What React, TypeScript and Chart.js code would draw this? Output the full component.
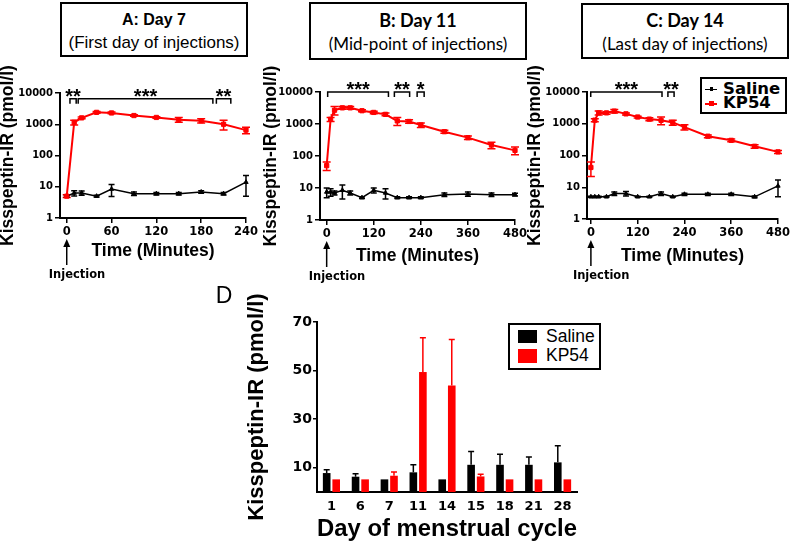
import React, { useEffect, useRef } from 'react';
import { Chart, registerables } from 'chart.js';

Chart.register(...registerables);

const SANS = '"Liberation Sans", Arial, sans-serif';
const HEAVY = '"DejaVu Sans", "Liberation Sans", sans-serif';
const LATO = 'Lato, "Open Sans", sans-serif';
const RED = '#ff0000';

// ---------- Panel A: Day 7 ----------
const timesA = [0, 10, 20, 40, 60, 90, 120, 150, 180, 210, 240];
const salineA = [5, 6.3, 6.3, 5, 8.4, 6, 6, 6, 6.8, 6, 14];
const salineErrA = [0.3, 1.2, 1, 0.3, 3.5, 0.8, 0.6, 0.6, 0.6, 0.6, 9];
const kp54A = [5, 1150, 1600, 2400, 2300, 1900, 1650, 1400, 1300, 1000, 650];
const kp54ErrA = [0.5, 200, 100, 150, 150, 100, 100, 250, 200, 350, 150];
const xTicksA = [0, 60, 120, 180, 240];
const bracketsA: [number, number, string][] = [[3, 14, '**'], [14, 197, '***'], [199, 221, '**']];
const bracketLevelA = 6500;

// ---------- Panel B: Day 11 ----------
const timesB = [0, 10, 20, 40, 60, 90, 120, 150, 180, 210, 240, 300, 360, 420, 480];
const salineB = [7.5, 7.5, 7, 8.5, 7, 5, 8.5, 7, 5, 5, 5, 6.2, 6.5, 6.2, 6.2];
const salineErrB = [2.5, 2, 1, 4, 1, 0.3, 1.5, 2.5, 0.3, 0.3, 0.3, 0.8, 1, 0.8, 0.6];
const kp54B = [50, 1400, 2700, 3200, 3200, 2600, 2300, 2000, 1250, 1200, 930, 575, 375, 220, 150];
const kp54ErrB = [15, 200, 800, 300, 300, 200, 200, 200, 350, 150, 150, 60, 50, 50, 40];
const bracketsB: [number, number, string][] = [[0, 160, '***'], [170, 214, '**'], [228, 251, '*']];
const bracketLevelB = 10000;

// ---------- Panel C: Day 14 ----------
const timesC = [0, 10, 20, 40, 60, 90, 120, 150, 180, 210, 240, 300, 360, 420, 480];
const salineC = [5, 5, 5, 5, 6.3, 6.3, 5, 5, 6.3, 5, 6, 6, 6, 5, 11];
const salineErrC = [0.2, 0.2, 0.2, 0.2, 0.8, 1, 0.2, 0.2, 0.8, 0.2, 0.5, 0.5, 0.5, 0.3, 6];
const kp54C = [42, 1300, 2200, 2200, 2500, 2050, 1630, 1400, 1280, 1100, 780, 405, 300, 195, 130];
const kp54ErrC = [20, 150, 300, 200, 300, 150, 100, 150, 350, 200, 150, 40, 30, 25, 15];
const bracketsC: [number, number, string][] = [[-3, 185, '***'], [195, 216, '**']];
const bracketLevelC = 10000;

const xTicksBC = [0, 120, 240, 360, 480];
const logTicks = [1, 10, 100, 1000, 10000];

// ---------- Panel D: menstrual cycle ----------
const days = ['1', '6', '7', '11', '14', '15', '18', '21', '28'];
const salineD = [7.8, 6.3, 5.2, 8.1, 5.2, 11.2, 11.2, 11.2, 12.2];
const salineErrD = [1.4, 1.2, 0, 3.1, 0, 5.5, 4.3, 3.2, 6.8];
const kp54D = [5.2, 5.2, 6.7, 49.4, 43.9, 6.4, 5.2, 5.2, 5.2];
const kp54ErrD = [0, 0, 1.5, 14.1, 18.9, 0.9, 0, 0, 0];
const yTicksD = [10, 30, 50, 70];

function drawErrors(chart: any, opts: any) {
  const { ctx } = chart;
  const y = chart.scales.y;
  chart.data.datasets.forEach((ds: any, di: number) => {
    if (!ds.errors) return;
    const meta = chart.getDatasetMeta(di);
    ctx.save();
    ctx.strokeStyle = ds.errorColor || ds.borderColor || ds.backgroundColor;
    ctx.lineWidth = (opts && opts.lineWidth) || 1.5;
    meta.data.forEach((el: any, i: number) => {
      const e = ds.errors[i];
      if (!e) return;
      const d = ds.data[i];
      const v = typeof d === 'number' ? d : d.y;
      const cap = ds.errorCap ?? 3;
      const top = y.getPixelForValue(v + e);
      const bottom = opts && opts.upOnly ? el.y : y.getPixelForValue(Math.max(v - e, y.min));
      ctx.beginPath();
      ctx.moveTo(el.x, top);
      ctx.lineTo(el.x, bottom);
      ctx.moveTo(el.x - cap, top);
      ctx.lineTo(el.x + cap, top);
      if (!(opts && opts.upOnly)) {
        ctx.moveTo(el.x - cap, bottom);
        ctx.lineTo(el.x + cap, bottom);
      }
      ctx.stroke();
    });
    ctx.restore();
  });
}

const errorBarPlugin = {
  id: 'errorBars',
  beforeDatasetsDraw(chart: any, _a: any, opts: any) {
    if (!(opts && opts.after)) drawErrors(chart, opts);
  },
  afterDatasetsDraw(chart: any, _a: any, opts: any) {
    if (opts && opts.after) drawErrors(chart, opts);
  },
};

const bracketPlugin = {
  id: 'brackets',
  afterDatasetsDraw(chart: any, _a: any, opts: any) {
    if (!opts || !opts.items) return;
    const { ctx } = chart;
    const x = chart.scales.x;
    const y = chart.scales.y;
    const yb = y.getPixelForValue(opts.level);
    ctx.save();
    ctx.strokeStyle = '#000';
    ctx.fillStyle = '#000';
    ctx.lineWidth = 1.5;
    ctx.font = `bold 20px ${SANS}`;
    ctx.textAlign = 'center';
    ctx.textBaseline = 'alphabetic';
    for (const [a, b, label] of opts.items) {
      const x0 = x.getPixelForValue(a) + 1;
      const x1 = x.getPixelForValue(b) - 1;
      ctx.beginPath();
      ctx.moveTo(x0, yb + 5);
      ctx.lineTo(x0, yb);
      ctx.lineTo(x1, yb);
      ctx.lineTo(x1, yb + 5);
      ctx.stroke();
      ctx.fillText(label, (x0 + x1) / 2, yb + 4);
    }
    ctx.restore();
  },
};

const injectionPlugin = {
  id: 'injection',
  afterDraw(chart: any, _a: any, opts: any) {
    if (!opts || !opts.label) return;
    const { ctx, chartArea } = chart;
    const px = chart.scales.x.getPixelForValue(opts.at);
    const y0 = chartArea.bottom + 21;
    const y1 = chartArea.bottom + 47;
    ctx.save();
    ctx.strokeStyle = '#000';
    ctx.fillStyle = '#000';
    ctx.lineWidth = 1.5;
    ctx.beginPath();
    ctx.moveTo(px, y0 + 6);
    ctx.lineTo(px, y1);
    ctx.stroke();
    ctx.beginPath();
    ctx.moveTo(px, y0);
    ctx.lineTo(px - 3.5, y0 + 8);
    ctx.lineTo(px + 3.5, y0 + 8);
    ctx.closePath();
    ctx.fill();
    ctx.font = `bold 11.5px ${HEAVY}`;
    ctx.textAlign = 'left';
    ctx.textBaseline = 'middle';
    ctx.fillText(opts.label, px - 18, chartArea.bottom + 57);
    ctx.restore();
  },
};

type LineProps = {
  left: number; top: number; width: number; height: number;
  padTop: number; padRight: number; padBottom: number;
  yWidth: number; xHeight: number;
  times: number[]; saline: number[]; salineErr: number[]; kp54: number[]; kp54Err: number[];
  xMin: number; xMax: number; xTicks: number[];
  brackets: [number, number, string][]; bracketLevel: number;
};

function LinePanel(p: LineProps) {
  const ref = useRef<HTMLCanvasElement>(null);
  useEffect(() => {
    if (!ref.current) return;
    const axisGrid = { display: true, drawOnChartArea: false, drawTicks: true, tickLength: 5, color: '#000', lineWidth: 1.5 };
    const border = { display: true, color: '#000', width: 2 };
    const chart = new Chart(ref.current, {
      type: 'line',
      data: {
        datasets: [
          {
            label: 'KP54',
            data: p.times.map((t, i) => ({ x: t, y: p.kp54[i] })),
            errors: p.kp54Err,
            errorCap: 4,
            borderColor: RED,
            backgroundColor: RED,
            borderWidth: 2,
            pointStyle: 'rect',
            pointRadius: 3,
            pointBorderWidth: 1,
            tension: 0,
            clip: false,
          } as any,
          {
            label: 'Saline',
            data: p.times.map((t, i) => ({ x: t, y: p.saline[i] })),
            errors: p.salineErr,
            errorCap: 3,
            borderColor: '#000',
            backgroundColor: '#000',
            borderWidth: 1.5,
            pointStyle: 'triangle',
            pointRadius: 2.5,
            pointBorderWidth: 1,
            tension: 0,
            clip: false,
          } as any,
        ],
      },
      options: {
        responsive: false,
        animation: false,
        layout: { padding: { top: p.padTop, right: p.padRight, bottom: p.padBottom, left: 0 } },
        plugins: {
          legend: { display: false },
          tooltip: { enabled: false },
          errorBars: { after: false, lineWidth: 1.5 },
          brackets: { items: p.brackets, level: p.bracketLevel },
          injection: { label: 'Injection', at: 0 },
        } as any,
        scales: {
          x: {
            type: 'linear',
            min: p.xMin,
            max: p.xMax,
            afterBuildTicks: (s: any) => { s.ticks = p.xTicks.map((v) => ({ value: v })); },
            afterFit: (s: any) => { s.height = p.xHeight; },
            grid: axisGrid,
            border,
            ticks: { color: '#000', font: { family: HEAVY, size: 11.5, weight: 'bold' }, padding: 2, maxRotation: 0, autoSkip: false },
            title: { display: true, text: 'Time (Minutes)', color: '#000', font: { family: SANS, size: 17.5, weight: 'bold' }, padding: 0 },
          },
          y: {
            type: 'logarithmic',
            min: 1,
            max: 10000,
            afterBuildTicks: (s: any) => { s.ticks = logTicks.map((v) => ({ value: v })); },
            afterFit: (s: any) => { s.width = p.yWidth; },
            grid: axisGrid,
            border,
            ticks: { color: '#000', font: { family: HEAVY, size: 10, weight: 'bold' }, padding: 2, callback: (v: any) => String(v) },
            title: { display: true, text: 'Kisspeptin-IR (pmol/l)', color: '#000', font: { family: SANS, size: 17.5, weight: 'bold' }, padding: 0 },
          },
        } as any,
      },
      plugins: [errorBarPlugin, bracketPlugin, injectionPlugin],
    } as any);
    return () => chart.destroy();
  }, []);
  return (
    <canvas ref={ref} width={p.width} height={p.height}
      style={{ position: 'absolute', left: p.left, top: p.top }} />
  );
}

function BarPanel() {
  const ref = useRef<HTMLCanvasElement>(null);
  useEffect(() => {
    if (!ref.current) return;
    const chart = new Chart(ref.current, {
      type: 'bar',
      data: {
        labels: days,
        datasets: [
          { label: 'Saline', data: salineD, errors: salineErrD, errorColor: '#000', errorCap: 3, backgroundColor: '#000', borderWidth: 0 } as any,
          { label: 'KP54', data: kp54D, errors: kp54ErrD, errorColor: RED, errorCap: 3, backgroundColor: RED, borderWidth: 0 } as any,
        ],
      },
      options: {
        responsive: false,
        animation: false,
        layout: { padding: { top: 52, right: 23, bottom: 2, left: 0 } },
        datasets: { bar: { categoryPercentage: 0.66, barPercentage: 0.8 } },
        plugins: {
          legend: { display: false },
          tooltip: { enabled: false },
          errorBars: { after: true, upOnly: true, lineWidth: 1.5 },
        } as any,
        scales: {
          x: {
            afterFit: (s: any) => { s.height = 52; },
            grid: { display: true, drawOnChartArea: false, drawTicks: false, color: '#000' },
            border: { display: true, color: '#000', width: 2 },
            ticks: { color: '#000', font: { family: HEAVY, size: 13, weight: 'bold' }, padding: 7, maxRotation: 0, autoSkip: false },
            title: { display: true, text: 'Day of menstrual cycle', color: '#000', font: { family: SANS, size: 24, weight: 'bold' }, padding: 0 },
          },
          y: {
            min: 0,
            max: 70,
            afterBuildTicks: (s: any) => { s.ticks = yTicksD.map((v) => ({ value: v })); },
            afterFit: (s: any) => { s.width = 73; },
            grid: { display: true, drawOnChartArea: false, drawTicks: true, tickLength: 4, color: '#000', lineWidth: 1.5 },
            border: { display: true, color: '#000', width: 2 },
            ticks: { color: '#000', font: { family: HEAVY, size: 14, weight: 'bold' }, padding: 1 },
            title: { display: true, text: 'Kisspeptin-IR (pmol/l)', color: '#000', font: { family: SANS, size: 22, weight: 'bold' }, padding: 0 },
          },
        } as any,
      },
      plugins: [errorBarPlugin],
    } as any);
    return () => chart.destroy();
  }, []);
  return <canvas ref={ref} width={356} height={276} style={{ position: 'absolute', left: 244, top: 270 }} />;
}

function Txt(props: { left: number; width: number; cy: number; size: number; weight?: string; family?: string; align?: any; children: any }) {
  const { left, width, cy, size, weight = 'normal', family = SANS, align = 'center', children } = props;
  return (
    <div style={{
      position: 'absolute', left, width, top: cy - size / 2, height: size, lineHeight: `${size}px`,
      fontSize: size, fontWeight: weight as any, fontFamily: family, textAlign: align, whiteSpace: 'nowrap', color: '#000',
    }}>{children}</div>
  );
}

function Box(props: { left: number; top: number; width: number; height: number }) {
  return (
    <div style={{
      position: 'absolute', left: props.left, top: props.top, width: props.width, height: props.height,
      border: '2px solid #000', boxSizing: 'border-box', background: '#fff',
    }} />
  );
}

export default function App() {
  return (
    <div style={{ position: 'absolute', left: 0, top: 0, width: 792, height: 546, background: '#fff', overflow: 'hidden' }}>
      <LinePanel left={-2} top={60} width={262} height={230} padTop={33} padRight={13} padBottom={28}
        yWidth={62} xHeight={44} times={timesA} saline={salineA} salineErr={salineErrA}
        kp54={kp54A} kp54Err={kp54ErrA} xMin={-9} xMax={240} xTicks={xTicksA}
        brackets={bracketsA} bracketLevel={bracketLevelA} />
      <LinePanel left={261} top={60} width={275} height={230} padTop={32} padRight={21} padBottom={23}
        yWidth={59} xHeight={47} times={timesB} saline={salineB} salineErr={salineErrB}
        kp54={kp54B} kp54Err={kp54ErrB} xMin={-17} xMax={480} xTicks={xTicksBC}
        brackets={bracketsB} bracketLevel={bracketLevelB} />
      <LinePanel left={525} top={60} width={267} height={230} padTop={32} padRight={14} padBottom={23}
        yWidth={62} xHeight={48} times={timesC} saline={salineC} salineErr={salineErrC}
        kp54={kp54C} kp54Err={kp54ErrC} xMin={-10} xMax={480} xTicks={xTicksBC}
        brackets={bracketsC} bracketLevel={bracketLevelC} />
      <BarPanel />

      {/* title boxes */}
      <Box left={60} top={2} width={188} height={55} />
      <Txt left={60} width={188} cy={20} size={16} weight="bold">A: Day 7</Txt>
      <Txt left={60} width={188} cy={42} size={17}>(First day of injections)</Txt>

      <Box left={309} top={2} width={218} height={58} />
      <Txt left={309} width={218} cy={20} size={18} weight="bold" family={LATO}>B: Day 11</Txt>
      <Txt left={309} width={218} cy={43} size={17} family={LATO}>(Mid-point of injections)</Txt>

      <Box left={581} top={3} width={208} height={56} />
      <Txt left={581} width={208} cy={20} size={18} weight="bold" family={LATO}>C: Day 14</Txt>
      <Txt left={581} width={208} cy={43} size={17} family={LATO}>(Last day of injections)</Txt>

      {/* legend for panel C */}
      <Box left={700} top={77} width={87} height={37} />
      <div style={{ position: 'absolute', left: 705, top: 88.5, width: 12, height: 1.5, background: '#000' }} />
      <div style={{ position: 'absolute', left: 709.5, top: 87.3, width: 3, height: 4, background: '#000' }} />
      <Txt left={723} width={64} cy={89.5} size={16.5} weight="bold" family={HEAVY} align="left">Saline</Txt>
      <div style={{ position: 'absolute', left: 705, top: 102.5, width: 12, height: 2, background: RED }} />
      <div style={{ position: 'absolute', left: 708.5, top: 101, width: 5, height: 5, background: RED }} />
      <Txt left={723} width={64} cy={103.5} size={16.5} weight="bold" family={HEAVY} align="left">KP54</Txt>

      {/* panel D */}
      <Txt left={212} width={24} cy={295} size={23}>D</Txt>
      <Box left={508} top={323} width={93} height={47} />
      <div style={{ position: 'absolute', left: 518, top: 330, width: 19, height: 13, background: '#000' }} />
      <div style={{ position: 'absolute', left: 518, top: 349, width: 19, height: 14, background: RED }} />
      <Txt left={546} width={54} cy={337} size={17.5} align="left">Saline</Txt>
      <Txt left={546} width={54} cy={356} size={17.5} align="left">KP54</Txt>
    </div>
  );
}
